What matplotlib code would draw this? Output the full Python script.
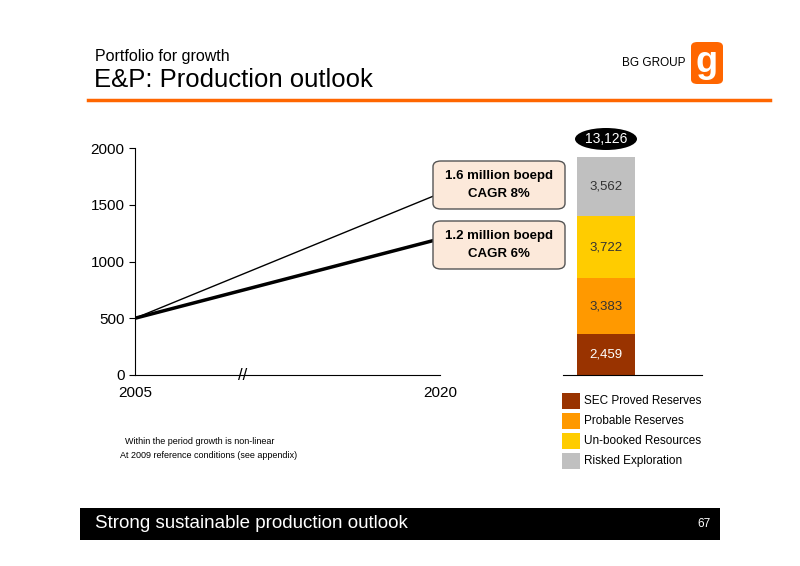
import matplotlib.pyplot as plt
from matplotlib.patches import FancyBboxPatch, Rectangle, Ellipse

plt.rcParams["font.family"] = ["Liberation Sans", "DejaVu Sans"]

years = [2005, 2020]
high_case = [500, 1600]
low_case = [500, 1200]
line_ticks = [0, 500, 1000, 1500, 2000]

segment_names = ["SEC Proved Reserves", "Probable Reserves", "Un-booked Resources", "Risked Exploration"]
segment_values = [2459, 3383, 3722, 3562]
segment_labels = ["2,459", "3,383", "3,722", "3,562"]
total_label = "13,126"
colors = ["#993300", "#FF9900", "#FFCC00", "#C0C0C0"]
text_colors = ["white", "#333333", "#333333", "#333333"]

W, H = 800, 566
fig = plt.figure(figsize=(8, 5.66), dpi=100)


def fx(px):
    return px / W


def fy(py):
    return 1 - py / H


# header
fig.text(fx(95), fy(57), "Portfolio for growth", fontsize=11.5, va="center")
fig.text(fx(94), fy(80), "E&P: Production outlook", fontsize=18.5, va="center")
fig.add_artist(plt.Line2D([fx(88), fx(770)], [fy(100), fy(100)], color="#FF6600", lw=2.5))
fig.text(fx(685), fy(63), "BG GROUP", fontsize=8.5, ha="right", va="center")
fig.add_artist(FancyBboxPatch((fx(691), fy(84)), fx(32), 42 / H, boxstyle="round,pad=0,rounding_size=0.008",
                              fc="#FF6600", ec="none", transform=fig.transFigure))
fig.text(fx(707), fy(62), "g", fontsize=26, color="white", ha="center", va="center", fontweight="bold")

# line chart
ax = fig.add_axes([fx(135), fy(375), fx(440) - fx(135), 227 / H])
ax.plot(years, high_case, color="black", lw=1, zorder=2)
ax.plot(years, low_case, color="black", lw=2.5, zorder=2)
ax.set_xlim(2005, 2020)
ax.set_ylim(0, 2000)
ax.set_yticks(line_ticks)
ax.set_xticks(years)
ax.tick_params(labelsize=11, length=4)
ax.tick_params(axis="x", length=0, pad=8)
for s in ["top", "right"]:
    ax.spines[s].set_visible(False)
ax.text(2010.3, 0, "//", fontsize=12, ha="center", va="center", clip_on=False)

for txt, py in [("1.6 million boepd\nCAGR 8%", 185), ("1.2 million boepd\nCAGR 6%", 245)]:
    fig.add_artist(FancyBboxPatch((fx(433), fy(py + 24)), fx(132), 48 / H,
                                  boxstyle="round,pad=0,rounding_size=0.01",
                                  fc="#FCE9DA", ec="#555555", lw=1, transform=fig.transFigure, zorder=5))
    fig.text(fx(499), fy(py), txt, fontsize=9.5, fontweight="bold", ha="center", va="center",
             linespacing=1.6, zorder=6)

fig.text(fx(125), fy(442), "Within the period growth is non-linear", fontsize=6.5, va="center")
fig.text(fx(120), fy(456), "At 2009 reference conditions (see appendix)", fontsize=6.5, va="center")

# stacked bar
bx = fig.add_axes([fx(563), fy(375), fx(702) - fx(563), 227 / H])
bottom = 0
for val, lab, c, tc in zip(segment_values, segment_labels, colors, text_colors):
    bx.bar(0.31, val, width=0.42, bottom=bottom, color=c)
    bx.text(0.31, bottom + val / 2, lab, ha="center", va="center", fontsize=9.5, color=tc)
    bottom += val
bx.set_xlim(0, 1)
bx.set_ylim(0, bottom * 227 / 218)
bx.set_xticks([])
bx.set_yticks([])
for s in ["top", "right", "left"]:
    bx.spines[s].set_visible(False)

fig.add_artist(Ellipse((fx(606), fy(139)), fx(62), 22 / H, fc="black", transform=fig.transFigure))
fig.text(fx(606), fy(139), total_label, color="white", fontsize=10, ha="center", va="center")

for i, (name, c) in enumerate(zip(segment_names, colors)):
    py = 401 + i * 20
    fig.add_artist(Rectangle((fx(562), fy(py + 8)), fx(18), 16 / H, fc=c, ec="none",
                             transform=fig.transFigure))
    fig.text(fx(584), fy(py), name, fontsize=8.5, va="center")

# footer
fig.add_artist(Rectangle((fx(80), fy(540)), fx(640), 32 / H, fc="black", ec="none",
                         transform=fig.transFigure))
fig.text(fx(95), fy(524), "Strong sustainable production outlook", color="white", fontsize=13.5, va="center")
fig.text(fx(697), fy(524), "67", color="white", fontsize=8.5, va="center")

fig.savefig("out.png", dpi=100)
